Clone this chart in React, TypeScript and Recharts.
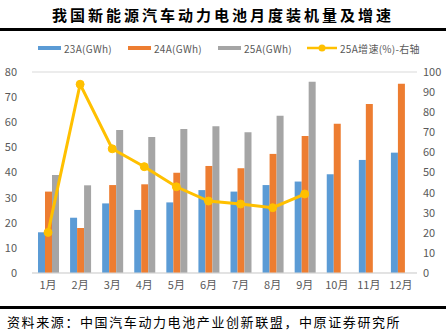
import {
  ComposedChart,
  Bar,
  Line,
  XAxis,
  YAxis,
  CartesianGrid,
} from "recharts";

const months = ["1月", "2月", "3月", "4月", "5月", "6月", "7月", "8月", "9月", "10月", "11月", "12月"];
const gwh23 = [16.2, 22.0, 27.7, 25.1, 28.1, 33.0, 32.4, 35.0, 36.4, 39.3, 45.0, 47.9];
const gwh24 = [32.4, 17.9, 35.0, 35.3, 39.9, 42.6, 41.7, 47.4, 54.5, 59.4, 67.3, 75.3];
const gwh25 = [39.0, 34.9, 56.9, 54.1, 57.3, 58.4, 56.0, 62.6, 76.1, null, null, null];
const growth25 = [20.2, 93.9, 61.8, 52.9, 42.9, 35.8, 34.3, 32.5, 39.3, null, null, null];
const leftTicks = [0, 10, 20, 30, 40, 50, 60, 70, 80];
const rightTicks = [0, 10, 20, 30, 40, 50, 60, 70, 80, 90, 100];

const data = months.map((m, i) => ({
  month: m,
  a23: gwh23[i],
  a24: gwh24[i],
  a25: gwh25[i],
  g25: growth25[i],
}));

const font = "'Noto Sans CJK SC', 'Noto Sans', sans-serif";
const tick = { fontSize: 11, fill: "#595959", fontFamily: font };

const legendItems = [
  { label: "23A(GWh)", color: "#5B9BD5", left: 38, line: false },
  { label: "24A(GWh)", color: "#ED7D31", left: 128, line: false },
  { label: "25A(GWh)", color: "#A5A5A5", left: 218, line: false },
  { label: "25A增速(%)-右轴", color: "#FFC000", left: 307, line: true },
];

export default function App() {
  return (
    <div
      style={{
        position: "absolute",
        left: 0,
        top: 0,
        width: 446,
        height: 335,
        background: "#fff",
        fontFamily: font,
        overflow: "hidden",
      }}
    >
      <div
        style={{
          position: "absolute",
          top: 5,
          left: 0,
          width: 446,
          textAlign: "center",
          fontSize: 15,
          fontWeight: 700,
          letterSpacing: 3,
          lineHeight: "20px",
          color: "#000",
        }}
      >
        我国新能源汽车动力电池月度装机量及增速
      </div>
      <div style={{ position: "absolute", top: 28, left: 0, width: 446, height: 3, background: "#000" }} />

      {legendItems.map((it) => (
        <div
          key={it.label}
          style={{ position: "absolute", top: 41, left: it.left, height: 14, display: "flex", alignItems: "center" }}
        >
          {it.line ? (
            <svg width={30} height={10}>
              <line x1={0} y1={5} x2={30} y2={5} stroke={it.color} strokeWidth={2.5} />
              <circle cx={15} cy={5} r={3.5} fill={it.color} />
            </svg>
          ) : (
            <div style={{ width: 23, height: 4, background: it.color }} />
          )}
          <span style={{ fontSize: 10, color: "#595959", marginLeft: 3, letterSpacing: 0.3 }}>{it.label}</span>
        </div>
      ))}

      <div style={{ position: "absolute", top: 0, left: 0 }}>
        <ComposedChart
          width={446}
          height={303}
          data={data}
          margin={{ top: 72, right: 0, bottom: 0, left: 0 }}
          barGap={0}
        >
          <CartesianGrid vertical={false} stroke="#D9D9D9" strokeWidth={1} />
          <XAxis
            dataKey="month"
            tick={tick}
            tickLine={false}
            tickSize={0}
            tickMargin={8}
            axisLine={{ stroke: "#D9D9D9" }}
            height={30}
            interval={0}
          />
          <YAxis
            yAxisId="left"
            domain={[0, 80]}
            ticks={leftTicks}
            tick={tick}
            tickLine={false}
            tickSize={0}
            tickMargin={15}
            axisLine={false}
            width={32}
          />
          <YAxis
            yAxisId="right"
            orientation="right"
            domain={[0, 100]}
            ticks={rightTicks}
            tick={tick}
            tickLine={false}
            tickSize={0}
            tickMargin={6}
            axisLine={false}
            width={29}
          />
          <Bar yAxisId="left" dataKey="a23" fill="#5B9BD5" barSize={7} isAnimationActive={false} />
          <Bar yAxisId="left" dataKey="a24" fill="#ED7D31" barSize={7} isAnimationActive={false} />
          <Bar yAxisId="left" dataKey="a25" fill="#A5A5A5" barSize={7} isAnimationActive={false} />
          <Line
            yAxisId="right"
            dataKey="g25"
            stroke="#FFC000"
            strokeWidth={3}
            dot={{ r: 4, fill: "#FFC000", stroke: "#FFC000", strokeWidth: 1 }}
            activeDot={false}
            isAnimationActive={false}
          />
        </ComposedChart>
      </div>

      <div style={{ position: "absolute", top: 306, left: 0, width: 446, height: 3, background: "#000" }} />
      <div
        style={{
          position: "absolute",
          top: 314,
          left: 7,
          fontSize: 13,
          letterSpacing: 1.6,
          lineHeight: "16px",
          color: "#000",
          whiteSpace: "nowrap",
        }}
      >
        资料来源：中国汽车动力电池产业创新联盟，中原证券研究所
      </div>
    </div>
  );
}
